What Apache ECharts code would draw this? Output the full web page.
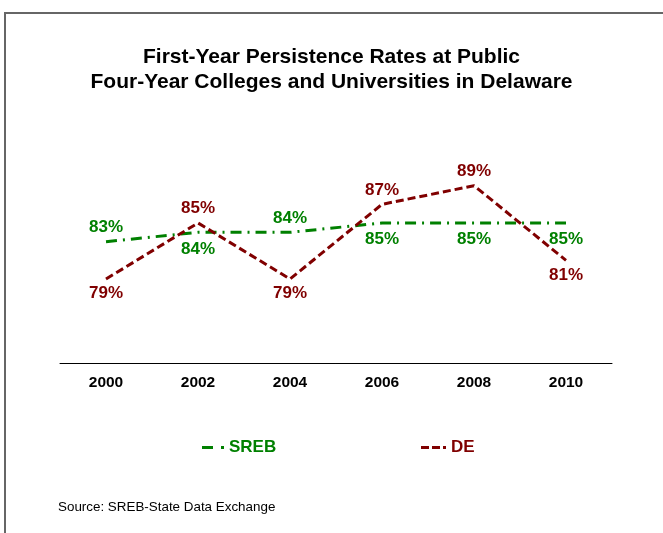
<!DOCTYPE html>
<html>
<head>
<meta charset="utf-8">
<script src="https://cdn.jsdelivr.net/npm/echarts@6/dist/echarts.min.js"></script>
<style>
html,body{margin:0;padding:0;background:#fff;}
#chart{width:663px;height:533px;}
</style>
</head>
<body>
<div id="chart"></div>
<script>
var years = ['2000', '2002', '2004', '2006', '2008', '2010'];
var srebValues = [83, 84, 84, 85, 85, 85];
var deValues = [79, 85, 79, 87, 89, 81];
var srebLabelPos = ['top', 'bottom', 'top', 'bottom', 'bottom', 'bottom'];
var deLabelPos = ['bottom', 'top', 'bottom', 'top', 'top', 'bottom'];

var GREEN = '#008000';
var RED = '#800000';
var FONT = 'Liberation Sans, Arial, sans-serif';

function buildData(vals, pos, color, distTop, distBottom) {
  return vals.map(function (v, i) {
    return {
      value: v,
      label: {
        show: true,
        position: pos[i],
        distance: pos[i] === 'top' ? distTop : distBottom,
        formatter: '{c}%',
        fontFamily: FONT, fontSize: 17, fontWeight: 'bold', color: color
      }
    };
  });
}

var chart = echarts.init(document.getElementById('chart'));
chart.setOption({
  animation: false,
  backgroundColor: '#fff',
  title: [{
    text: 'First-Year Persistence Rates at Public\nFour-Year Colleges and Universities in Delaware',
    left: 'center',
    top: 40,
    textStyle: { fontFamily: FONT, fontSize: 21, fontWeight: 'bold', color: '#000', lineHeight: 25 }
  }, {
    text: 'Source: SREB-State Data Exchange',
    left: 53,
    top: 496,
    textStyle: { fontFamily: FONT, fontSize: 13.4, fontWeight: 'normal', color: '#000' }
  }],
  graphic: [{
    type: 'polyline',
    shape: { points: [[5, 533], [5, 13], [663, 13]] },
    style: { stroke: '#666', lineWidth: 2, fill: null }
  }],
  legend: [{
    left: 197,
    top: 434,
    itemWidth: 22,
    itemHeight: 3,
    itemGap: 6,
    textStyle: { fontFamily: FONT, fontSize: 17, fontWeight: 'bold' },
    data: [{
      name: 'SREB',
      icon: 'path://M0,0h11v3h-11z M19,0h3v3h-3z',
      textStyle: { color: GREEN }
    }]
  }, {
    left: 416,
    top: 434,
    itemWidth: 25,
    itemHeight: 3,
    textStyle: { fontFamily: FONT, fontSize: 17, fontWeight: 'bold' },
    data: [{
      name: 'DE',
      icon: 'path://M0,0h8v3h-8z M11,0h8v3h-8z M22,0h3v3h-3z',
      textStyle: { color: RED }
    }]
  }],
  grid: { left: 60, right: 51, top: 83, bottom: 170 },
  xAxis: {
    type: 'category',
    data: years,
    boundaryGap: true,
    axisLine: { lineStyle: { color: '#000', width: 1 } },
    axisTick: { show: false },
    axisLabel: { fontFamily: FONT, fontSize: 15.5, fontWeight: 'bold', color: '#000', margin: 12 }
  },
  yAxis: {
    type: 'value',
    min: 70,
    max: 100,
    show: false,
    splitLine: { show: false }
  },
  series: [{
    name: 'SREB',
    type: 'line',
    data: buildData(srebValues, srebLabelPos, GREEN, 6, 8),
    symbol: 'circle',
    symbolSize: 0,
    showSymbol: true,
    color: GREEN,
    lineStyle: { color: GREEN, width: 3, type: [11, 6, 2, 6] },
    label: { show: true }
  }, {
    name: 'DE',
    type: 'line',
    data: buildData(deValues, deLabelPos, RED, 6, 6),
    symbol: 'circle',
    symbolSize: 0,
    showSymbol: true,
    color: RED,
    lineStyle: { color: RED, width: 3, type: [8, 4] },
    label: { show: true }
  }]
});
</script>
</body>
</html>
